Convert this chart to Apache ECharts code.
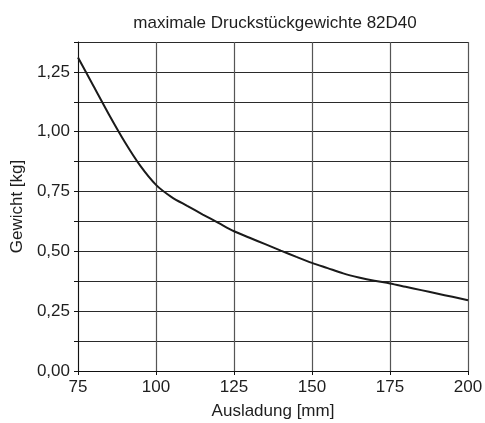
<!DOCTYPE html>
<html>
<head>
<meta charset="utf-8">
<script src="https://cdn.jsdelivr.net/npm/echarts@6/dist/echarts.min.js"></script>
<style>
	html, body { margin: 0; padding: 0; background: #fff; }
	#chart { width: 485px; height: 423px; }
</style>
</head>
<body>
<div id="chart"></div>
<script>
// Ausladung [mm]
const ausladung = [75, 80, 85, 90, 95, 100, 105, 110, 115, 120, 125, 130, 135, 140, 145, 150, 155, 160, 165, 170, 175, 180, 185, 190, 195, 200]
// Gewicht [kg]
const gewicht = [1.31, 1.19, 1.07, 0.957, 0.857, 0.778, 0.727, 0.69, 0.654, 0.619, 0.584, 0.557, 0.53, 0.503, 0.477, 0.452, 0.43, 0.408, 0.391, 0.377, 0.366, 0.352, 0.338, 0.324, 0.31, 0.296]
const xTicks = [75, 100, 125, 150, 175, 200]

const font = '"Liberation Sans", Arial, sans-serif'
const textColor = '#1e1e1e'

const chart = echarts.init(document.getElementById('chart'), null, { renderer: 'canvas' })

const option = {
	animation: false,
	title: {
		text: 'maximale Druckstückgewichte 82D40',
		left: 270,
		top: 10,
		textAlign: 'center',
		textStyle: { fontFamily: font, fontSize: 17, fontWeight: 'normal', color: textColor },
	},
	grid: { left: 78, right: 17, top: 42, bottom: 52, outerBoundsMode: 'none' },
	xAxis: {
		type: 'value',
		min: xTicks[0],
		max: xTicks[xTicks.length - 1],
		interval: 25,
		name: 'Ausladung [mm]',
		nameLocation: 'middle',
		nameGap: 32,
		nameTextStyle: { fontFamily: font, fontSize: 17, color: textColor },
		axisLine: { show: true, lineStyle: { color: '#111', width: 1 } },
		axisTick: { show: true, length: 4, lineStyle: { color: '#111' } },
		axisLabel: { fontFamily: font, fontSize: 17, color: textColor, margin: 8 },
		splitLine: { show: true, lineStyle: { color: '#555', width: 1.2 } },
	},
	yAxis: {
		type: 'value',
		min: 0,
		max: 1.375,
		interval: 0.125,
		name: 'Gewicht [kg]',
		nameLocation: 'middle',
		nameGap: 50,
		nameTextStyle: { fontFamily: font, fontSize: 17, color: textColor },
		axisLine: { show: true, lineStyle: { color: '#111', width: 1 } },
		axisTick: { show: true, length: 4, lineStyle: { color: '#111' } },
		axisLabel: {
			fontFamily: font,
			fontSize: 17,
			color: textColor,
			margin: 8,
			formatter: (v) => (Math.abs(v / 0.25 - Math.round(v / 0.25)) < 1e-6 && v < 1.3 ? v.toFixed(2).replace('.', ',') : ''),
		},
		splitLine: { show: true, lineStyle: { color: '#2a2a2a', width: 1.2 } },
	},
	series: [
		{
			type: 'line',
			data: ausladung.map((x, i) => [x, gewicht[i]]),
			smooth: 0.3,
			showSymbol: false,
			lineStyle: { color: '#1a1a1a', width: 2 },
		},
	],
}

chart.setOption(option)
</script>
</body>
</html>
